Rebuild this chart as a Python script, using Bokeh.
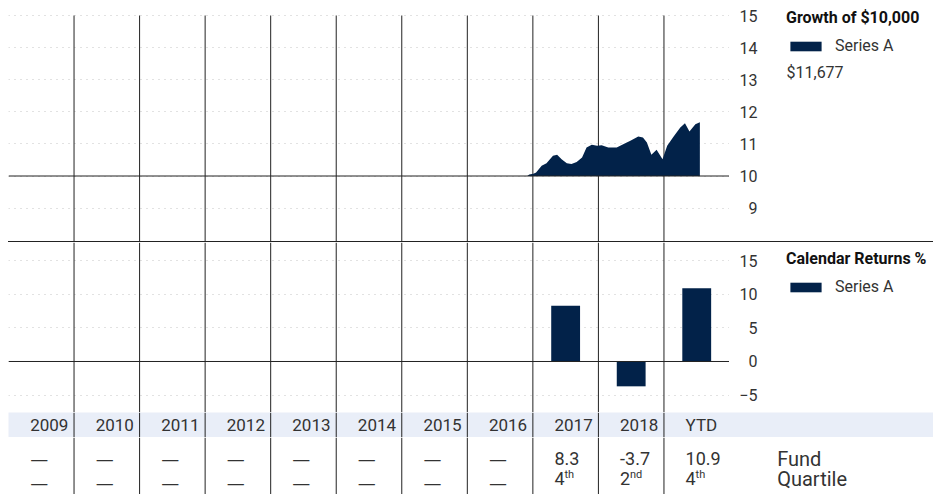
import numpy as np
import pandas as pd
from bokeh.plotting import figure
from bokeh.layouts import column, row
from bokeh.models import (Range1d, Span, FixedTicker, Legend, LegendItem, Label, Div,
                          ColumnDataSource)
from bokeh.core.properties import value
from bokeh.embed import file_html
from bokeh.resources import INLINE

# ---------------- data ----------------
periods = ["2009", "2010", "2011", "2012", "2013", "2014", "2015", "2016", "2017", "2018", "YTD"]
first_year = 2009

growth_dates = [
    "2016-12-01", "2016-12-12", "2017-01-04", "2017-01-19", "2017-02-19", "2017-03-18",
    "2017-04-23", "2017-05-16", "2017-06-10", "2017-07-09", "2017-08-04", "2017-09-02",
    "2017-10-02", "2017-10-27", "2017-11-25", "2017-12-25", "2018-01-19", "2018-02-25",
    "2018-04-13", "2018-05-19", "2018-06-28", "2018-08-11", "2018-09-06", "2018-09-28",
    "2018-10-23", "2018-11-21", "2018-12-24", "2019-01-19", "2019-02-24", "2019-04-02",
    "2019-04-28", "2019-05-23", "2019-06-25", "2019-07-20",
]
growth_values = [
    10.00, 10.05, 10.07, 10.11, 10.32, 10.40,
    10.63, 10.66, 10.52, 10.40, 10.37, 10.44,
    10.58, 10.89, 10.97, 10.94, 10.96, 10.89,
    10.89, 10.99, 11.10, 11.23, 11.20, 11.04,
    10.66, 10.82, 10.52, 10.94, 11.23, 11.51,
    11.64, 11.39, 11.61, 11.677,
]
growth_baseline = 10.0
growth_ticks = [9, 10, 11, 12, 13, 14, 15]

return_periods = ["2017", "2018", "YTD"]
return_values = [8.3, -3.7, 10.9]
return_ticks = [-5, 0, 5, 10, 15]

fund_returns = ["—"] * 8 + ["8.3", "-3.7", "10.9"]
quartile_ranks = ["—"] * 8 + ["4", "2", "4"]
quartile_suffix = [""] * 8 + ["th", "nd", "th"]
row_labels = ["Fund", "Quartile"]

series_name = "Series A"
growth_title = "Growth of $10,000"
returns_title = "Calendar Returns %"
final_value = "$11,677"

# ---------------- style / layout constants ----------------
FONT = "Roboto"
DASH_FONT = "DejaVu Sans"
NAVY = "#022249"
TXT = "#333333"
LINE = "#222222"
BAND = "#e9eef8"
GRID = "#c4c4c4"
W = 925            # total width
FRAME_W = 721      # width of the year columns
AXIS_PANEL = 28    # right edge of tick labels, measured from the column area
NCOL = len(periods)
TEXT_DX = 0.33
MISSING = "—"

xr = Range1d(0, NCOL)
xr_table = Range1d(0, NCOL * W / FRAME_W)

# growth panel: 233 px tall frame, 32.1 px per $1,000, top tick 7 px below frame top
G_H, G_SCALE, G_PAD = 233, 32.1, 7
g_range = Range1d(growth_ticks[-1] + G_PAD / G_SCALE - G_H / G_SCALE,
                  growth_ticks[-1] + G_PAD / G_SCALE)
# returns panel: 170 px tall
R_H = 170
r_range = Range1d(-7.6, 17.73)


def base(width, height, x_range, y_range, left=0, bg="white"):
    p = figure(width=width, height=height, x_range=x_range, y_range=y_range,
               x_axis_location=None, y_axis_location=None,
               min_border_left=left, min_border_right=0, min_border_top=0,
               min_border_bottom=0, outline_line_color=None,
               background_fill_color=bg, border_fill_color=bg,
               output_backend="svg", toolbar_location=None)
    p.grid.visible = False
    return p


def add_col_lines(p, y0=None, y1=None):
    if y0 is None:
        for k in range(1, NCOL):
            p.add_layout(Span(location=k, dimension="height", line_color=LINE, line_width=1))
    else:
        ks = list(range(1, NCOL))
        p.segment(x0=ks, y0=[y0] * len(ks), x1=ks, y1=[y1] * len(ks),
                  line_color=LINE, line_width=1)


def chart_fig(height, y_range, ticks):
    p = base(FRAME_W, height, xr, y_range)
    p.ygrid.visible = True
    p.ygrid.ticker = FixedTicker(ticks=ticks)
    p.ygrid.grid_line_color = GRID
    p.ygrid.grid_line_dash = "1 5"
    return p


def axis_fig(width, height, y_range, ticks):
    p = figure(width=width, height=height, x_range=Range1d(0, 1), y_range=y_range,
               x_axis_location=None, y_axis_location="left",
               min_border_left=AXIS_PANEL, min_border_right=0, min_border_top=0,
               min_border_bottom=0, outline_line_color=None,
               output_backend="svg", toolbar_location=None)
    p.grid.visible = False
    ax = p.yaxis[0]
    ax.ticker = FixedTicker(ticks=ticks)
    ax.axis_line_color = None
    ax.major_tick_line_color = None
    ax.minor_tick_line_color = None
    ax.major_tick_out = 0
    ax.major_tick_in = 0
    ax.major_label_standoff = 0
    ax.major_label_text_font = FONT
    ax.major_label_text_font_size = "16px"
    ax.major_label_text_color = TXT
    return p


def side_legend(s, renderer, title, margin):
    leg = Legend(items=[LegendItem(label=series_name, renderers=[renderer])],
                 title=title, location="top_left",
                 title_text_font=FONT, title_text_font_style="bold",
                 title_text_font_size="16px", title_text_color="#111111",
                 title_standoff=9,
                 label_text_font=FONT, label_text_font_size="16px",
                 label_text_color=TXT, glyph_width=39, glyph_height=12,
                 label_standoff=10, padding=0, margin=margin, spacing=0,
                 border_line_color=None, background_fill_alpha=0)
    s.add_layout(leg)


# ---------------- growth chart ----------------
d = pd.to_datetime(growth_dates)
year_len = np.where(np.asarray(d.is_leap_year), 366, 365)
gx = (np.asarray(d.year) - first_year) + (np.asarray(d.dayofyear) - 1) / year_len
growth_src = ColumnDataSource(dict(x=gx, v=growth_values))

fa = chart_fig(G_H, g_range, growth_ticks)
add_col_lines(fa, g_range.start, growth_ticks[-1])
fa.varea(x="x", y1=growth_baseline, y2="v", source=growth_src, fill_color=NAVY)
fa.add_layout(Span(location=growth_baseline, dimension="width", line_color=LINE, line_width=1))

AX_A = 57
axa = axis_fig(AX_A, G_H, g_range, growth_ticks)
sa = base(W - FRAME_W - AX_A, G_H, Range1d(-2, -1), Range1d(-2, -1))
ra = sa.varea(x="x", y1=growth_baseline, y2="v", source=growth_src, fill_color=NAVY)
side_legend(sa, ra, growth_title, 0)
sa.add_layout(Label(x=0, y=G_H - 64, x_units="screen", y_units="screen", text=final_value,
                    text_font=FONT, text_font_size="16px", text_color=TXT,
                    text_baseline="middle"))

# ---------------- divider ----------------
divider = Div(text="", width=W, height=1, margin=0, styles={"background-color": LINE})

# ---------------- returns chart ----------------
bx = [periods.index(p) + 0.5 for p in return_periods]
ret_src = ColumnDataSource(dict(x=bx, v=return_values))

fb = chart_fig(R_H, r_range, return_ticks)
add_col_lines(fb)
fb.vbar(x="x", top="v", bottom=0, width=0.44, source=ret_src, fill_color=NAVY, line_color=None)
fb.add_layout(Span(location=0, dimension="width", line_color=LINE, line_width=1))

AX_B = 50
axb = axis_fig(AX_B, R_H, r_range, return_ticks)
sb = base(W - FRAME_W - AX_B, R_H, Range1d(-2, -1), Range1d(-2, -1))
rb = sb.vbar(x="x", top="v", bottom=0, width=0.44, source=ret_src, fill_color=NAVY, line_color=None)
side_legend(sb, rb, returns_title, 7)

# ---------------- table header ----------------
fh = base(W, 25, xr_table, Range1d(-0.5, 0.5), bg=BAND)
add_col_lines(fh)
fh.text(x=[i + TEXT_DX for i in range(NCOL)], y=[0] * NCOL, text=periods,
        text_font=value(FONT), text_font_size="17px", text_color=TXT,
        text_align="left", text_baseline="middle")

# ---------------- table body ----------------
fc = base(W, 57, xr_table, Range1d(1.8, -1.05))
add_col_lines(fc)


def body_row(r, texts, dash_dy):
    xs_num = [i + TEXT_DX for i, t in enumerate(texts) if t != MISSING]
    tx_num = [t for t in texts if t != MISSING]
    xs_dash = [i + TEXT_DX for i, t in enumerate(texts) if t == MISSING]
    fc.text(x=xs_num, y=[r] * len(xs_num), text=tx_num, text_font=value(FONT),
            text_font_size="18px", text_color=TXT, text_align="left", text_baseline="middle")
    fc.text(x=xs_dash, y=[r] * len(xs_dash), text=[MISSING] * len(xs_dash),
            text_font=value(DASH_FONT), text_font_size="18px", text_color=TXT,
            text_align="left", text_baseline="middle", y_offset=dash_dy)


body_row(0, fund_returns, 0)
body_row(1, quartile_ranks, 4)
sup_x = [i + TEXT_DX for i, t in enumerate(quartile_suffix) if t]
sup_t = [t for t in quartile_suffix if t]
fc.text(x=sup_x, y=[1] * len(sup_x), text=sup_t, text_font=value(FONT),
        text_font_size="11px", text_color=TXT, text_align="left", text_baseline="middle",
        x_offset=10, y_offset=-4)
label_x = (776.7 - 8) * NCOL / FRAME_W
fc.text(x=[label_x] * len(row_labels), y=list(range(len(row_labels))), text=row_labels,
        text_font=value(FONT), text_font_size="20px", text_color=TXT,
        text_align="left", text_baseline="middle")

layout = column(row(fa, axa, sa, spacing=0), divider, row(fb, axb, sb, spacing=0), fh, fc,
                spacing=0, margin=(8, 0, 0, 8))
open("out.html", "w").write(file_html(layout, INLINE))
